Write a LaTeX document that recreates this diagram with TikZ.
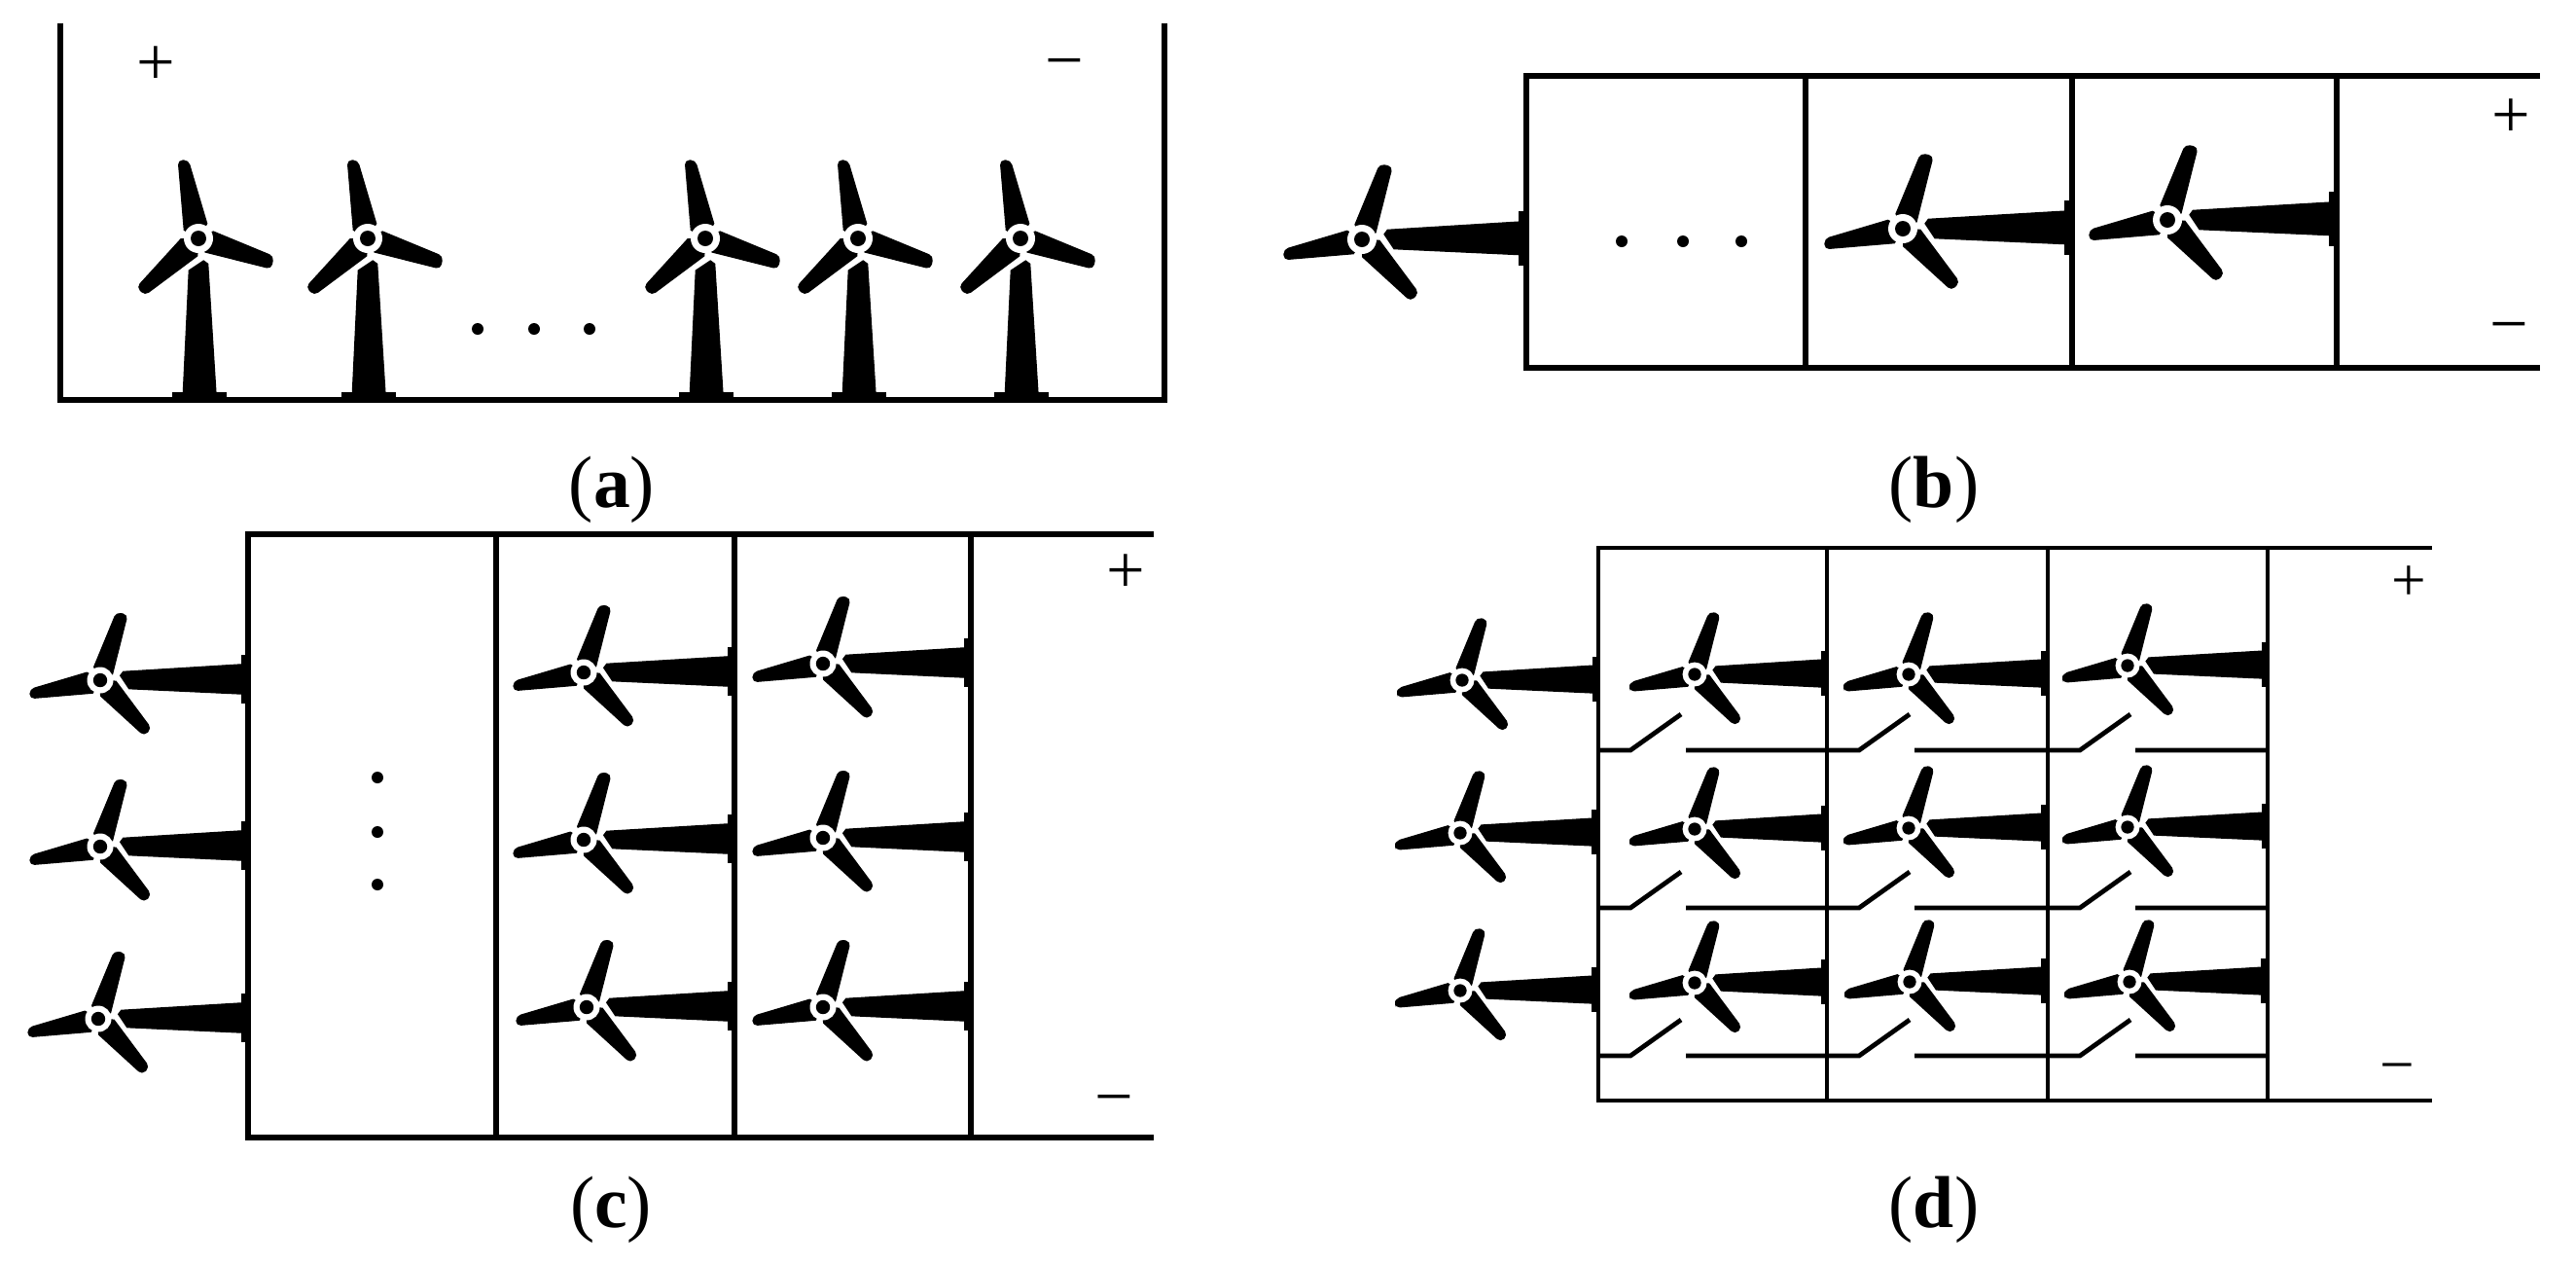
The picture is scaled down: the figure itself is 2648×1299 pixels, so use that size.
\documentclass[tikz,border=0pt]{standalone}
\usepackage{fontspec}
\setmainfont{Liberation Serif}
\tikzset{
	wire/.style={line width=0.058cm},
	thinwire/.style={line width=0.048cm},
	sign/.style={font=\fontsize{20}{20}\selectfont},
	smallsign/.style={font=\fontsize{18}{18}\selectfont},
	caption/.style={font=\fontsize{21.5}{21.5}\selectfont},
	turbine/.pic={
		%Canh quat
		\filldraw[line width=0.012cm] (0,0)--(-14.7,-8.7) [rounded corners=1.3pt] --(-20.7,-80)--(-10.5,-80) [sharp corners] --(8.7,-15.3)--cycle;
		\filldraw[line width=0.012cm] (0,0)--(15.3,-7) [rounded corners=1.3pt] --(77,18.5)--(74.5,31) [sharp corners] --(7,14)--cycle;
		\filldraw[line width=0.012cm] (0,0)--(-18,0.7) [rounded corners=1.3pt] --(-63,50)--(-55,58) [sharp corners] --(-1.3,18)--cycle;
		%Truc
		\fill[white] (0,0) circle (15);
		\fill (0,0) circle (8);
		%Than
		\filldraw[line width=0.012cm] (-9.7,33)--(5.3,23)--(9.7,26.3)--(18,#1-7)--(-15.7,#1-7)--cycle;
		\fill (-27,#1-8) rectangle (29,#1);
	}
}

\begin{document}
\begin{tikzpicture}[x=0.01cm,y=-0.01cm]
	\useasboundingbox (0,0) rectangle (2648,1299);
	%Hinh a
	\draw[wire] (62,24)--(62,411)--(1197,411)--(1197,24);
	\foreach \hx in {204,378,725,882,1049}
		\draw (\hx,245) pic {turbine=166};
	\foreach \dx in {491,549,606}
		\fill (\dx,338) circle (6);
	\node[sign] (plusa) at (160,68) {+};
	\node[sign] (minusa) at (1094,73) {−};
	\node[caption] (capa) at (629,503) {(\textbf{a})};
	%Hinh b
	\draw[wire] (2611,78)--(1569,78)--(1569,378)--(2611,378);
	\foreach \vx in {1856,2130,2402}
		\draw[wire] (\vx,78)--(\vx,378);
	\foreach \hx/\hy/\tl in {1400/246/169,1956/235/174,2228/226/174}
		\draw (\hx,\hy) pic[rotate=90] {turbine=\tl};
	\foreach \dx in {1667,1730,1790}
		\fill (\dx,248) circle (6);
	\node[sign] (plusb) at (2581,122) {+};
	\node[sign] (minusb) at (2579,344) {−};
	\node[caption] (capb) at (1988,503) {(\textbf{b})};
	%Hinh c
	\draw[wire] (1186,549)--(255,549)--(255,1169)--(1186,1169);
	\foreach \vx in {510,755,998}
		\draw[wire] (\vx,549)--(\vx,1169);
	\foreach \hx/\hy/\tl in {103/699/169,103/870/169,101/1047/171,
		600/691/172,600/863/172,603/1035/169,846/682/169,846/861/169,846/1035/169}
		\draw (\hx,\hy) pic[rotate=90,scale=0.9] {turbine=\tl};
	\foreach \dy in {799,855,909}
		\fill (388,\dy) circle (6);
	\node[sign] (plusc) at (1157,590) {+};
	\node[sign] (minusc) at (1145,1138) {−};
	\node[caption] (capc) at (628,1243) {(\textbf{c})};
	%Hinh d
	\draw[thinwire] (2500,563)--(1643,563)--(1643,1131)--(2500,1131);
	\foreach \vx in {1878,2105,2331}
		\draw[thinwire] (\vx,563)--(\vx,1131);
	\foreach \hx/\hy/\tl in {1503/699/169,1742/693/164,1962/693/172,2187/684/174,
		1501/856/171,1742/852/164,1962/851/172,2187/850/174,
		1501/1018/171,1742/1010/164,1963/1009/171,2189/1009/171}
		\draw (\hx,\hy) pic[rotate=90,scale=0.83] {turbine=\tl};
	%Cong tac
	\foreach \ry in {771,933,1085}
		\foreach \vx/\nx in {1643/1878,1878/2105,2105/2331}
			\draw[thinwire] (\vx,\ry)--(\vx+33,\ry)--(\vx+85,\ry-37) (\vx+90,\ry)--(\nx,\ry);
	\node[smallsign] (plusd) at (2476,600) {+};
	\node[smallsign] (minusd) at (2464,1104) {−};
	\node[caption] (capd) at (1988,1243) {(\textbf{d})};
\end{tikzpicture}
\end{document}
